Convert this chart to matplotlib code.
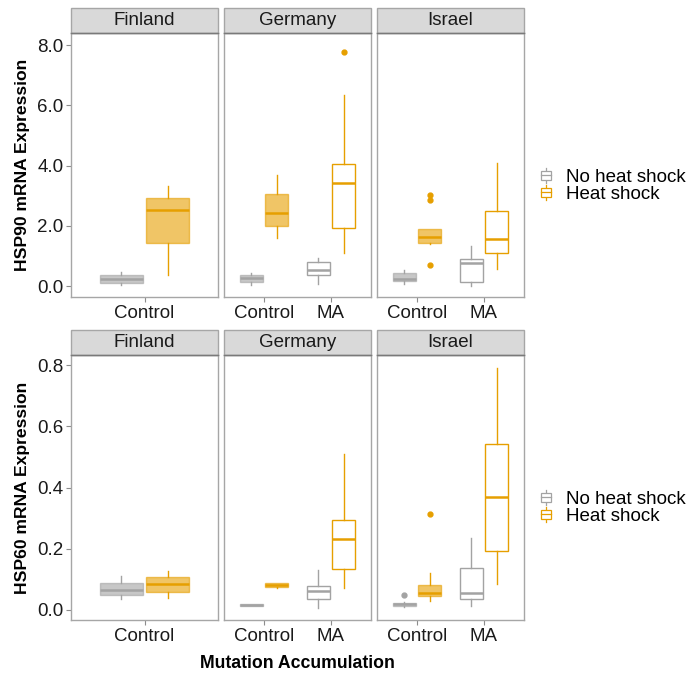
import matplotlib
matplotlib.use("Agg")
import matplotlib.pyplot as plt
from matplotlib.patches import Rectangle
from matplotlib.lines import Line2D
from matplotlib.legend_handler import HandlerBase

plt.rcParams['font.family'] = ['Liberation Sans', 'DejaVu Sans']

# ---------------- data ----------------
countries = ["Finland", "Germany", "Israel"]
treatments = {"Finland": ["Control"], "Germany": ["Control", "MA"], "Israel": ["Control", "MA"]}
heat_levels = ["No heat shock", "Heat shock"]

# group order: Finland-Control(No, HS), Germany-Control(No, HS), Germany-MA(No, HS),
#              Israel-Control(No, HS), Israel-MA(No, HS)
group_country = ["Finland", "Finland", "Germany", "Germany", "Germany", "Germany",
                 "Israel", "Israel", "Israel", "Israel"]
group_treat = ["Control", "Control", "Control", "Control", "MA", "MA",
               "Control", "Control", "MA", "MA"]
group_heat = ["No heat shock", "Heat shock"] * 5

hsp90_whislo = [0.02, 0.36, 0.03, 1.60, 0.06, 1.09, 0.08, 1.39, 0.01, 0.57]
hsp90_q1 = [0.10, 1.42, 0.14, 2.00, 0.36, 1.92, 0.17, 1.43, 0.14, 1.09]
hsp90_med = [0.24, 2.51, 0.25, 2.44, 0.52, 3.43, 0.24, 1.62, 0.75, 1.56]
hsp90_q3 = [0.37, 2.93, 0.36, 3.07, 0.79, 4.04, 0.44, 1.89, 0.91, 2.49]
hsp90_whishi = [0.48, 3.33, 0.43, 3.68, 0.94, 6.35, 0.53, 1.90, 1.33, 4.08]
hsp90_fliers = [[], [], [], [], [], [7.78], [], [3.02, 2.85, 0.69], [], []]

hsp60_whislo = [0.037, 0.040, 0.013, 0.070, 0.005, 0.071, 0.009, 0.030, 0.014, 0.084]
hsp60_q1 = [0.049, 0.060, 0.014, 0.074, 0.035, 0.135, 0.013, 0.045, 0.037, 0.193]
hsp60_med = [0.065, 0.084, 0.016, 0.081, 0.061, 0.233, 0.018, 0.055, 0.055, 0.370]
hsp60_q3 = [0.089, 0.107, 0.018, 0.087, 0.078, 0.293, 0.023, 0.081, 0.138, 0.543]
hsp60_whishi = [0.111, 0.127, 0.019, 0.089, 0.131, 0.509, 0.026, 0.122, 0.234, 0.789]
hsp60_fliers = [[], [], [], [], [], [], [0.048], [0.315], [], []]

hsp90_ticks = [0.0, 2.0, 4.0, 6.0, 8.0]
hsp60_ticks = [0.0, 0.2, 0.4, 0.6, 0.8]

colors = {"No heat shock": "#A3A3A3", "Heat shock": "#E69F00"}

# ---------------- layout ----------------
W, H = 691, 673
fig = plt.figure(figsize=(W / 100, H / 100), dpi=100)

panel_left = [71, 224, 377]
panel_w = 147
rows = [
    dict(top=33, bottom=297, strip_top=8, ylim=(-0.365, 8.4), ticks=hsp90_ticks,
         ylabel="HSP90 mRNA Expression",
         stats=(hsp90_whislo, hsp90_q1, hsp90_med, hsp90_q3, hsp90_whishi, hsp90_fliers),
         legend_y=186),
    dict(top=355, bottom=620, strip_top=330, ylim=(-0.033, 0.833), ticks=hsp60_ticks,
         ylabel="HSP60 mRNA Expression",
         stats=(hsp60_whislo, hsp60_q1, hsp60_med, hsp60_q3, hsp60_whishi, hsp60_fliers),
         legend_y=508),
]

border_col = "#A6A6A6"
offset = 0.19
bw = 0.35
fs = 13.5

for row in rows:
    lo, q1, med, q3, hi, fl = row["stats"]
    axes = []
    for ci, country in enumerate(countries):
        l = panel_left[ci] / W
        b = 1 - row["bottom"] / H
        h = (row["bottom"] - row["top"]) / H
        ax = fig.add_axes([l, b, panel_w / W, h])
        axes.append(ax)
        cats = treatments[country]
        for i in range(len(group_country)):
            if group_country[i] != country:
                continue
            xi = cats.index(group_treat[i]) + 1
            xpos = xi - offset if group_heat[i] == "No heat shock" else xi + offset
            col = colors[group_heat[i]]
            filled = group_treat[i] == "Control"
            st = [dict(med=med[i], q1=q1[i], q3=q3[i], whislo=lo[i], whishi=hi[i],
                       fliers=fl[i])]
            ax.bxp(st, positions=[xpos], widths=bw, patch_artist=True, showcaps=False,
                   boxprops=dict(facecolor=(col if filled else "white"), edgecolor=col,
                                 linewidth=1.0, alpha=(0.6 if filled else 1.0)),
                   whiskerprops=dict(color=col, linewidth=1.0),
                   medianprops=dict(color=col, linewidth=1.8),
                   flierprops=dict(marker="o", markersize=3.5, markerfacecolor=col,
                                   markeredgecolor=col),
                   manage_ticks=False, zorder=3)
        ax.set_xlim(0.4, len(cats) + 0.6)
        ax.set_ylim(*row["ylim"])
        ax.set_xticks(range(1, len(cats) + 1))
        ax.set_xticklabels(cats, fontsize=fs, color="#1a1a1a")
        ax.set_yticks(row["ticks"])
        ax.set_yticklabels([f"{t:.1f}" for t in row["ticks"]], fontsize=fs, color="#1a1a1a")
        ax.tick_params(axis="both", length=3.5, width=0.8, color="#8c8c8c", pad=2)
        if ci > 0:
            ax.tick_params(axis="y", left=False, labelleft=False)
        for sp in ax.spines.values():
            sp.set_color(border_col)
            sp.set_linewidth(1.0)
        # strip
        sh = (row["top"] - row["strip_top"]) / (row["bottom"] - row["top"])
        rect = Rectangle((0, 1), 1, sh, transform=ax.transAxes, facecolor="#D9D9D9",
                         edgecolor=border_col, linewidth=1.0, clip_on=False)
        ax.add_patch(rect)
        ax.plot([0, 1], [1, 1], transform=ax.transAxes, color="#7a7a7a", linewidth=1.0,
                clip_on=False, zorder=5)
        ax.text(0.5, 1 + sh / 2, country, transform=ax.transAxes, ha="center",
                va="center", fontsize=fs, color="#1a1a1a")
    axes[0].set_ylabel(row["ylabel"], fontsize=12.6, fontweight="bold", labelpad=5)

    class BoxHandler(HandlerBase):
        def create_artists(self, legend, orig_handle, xdescent, ydescent, width, height,
                           fontsize, trans):
            c = orig_handle.get_color()
            cx = -xdescent + width / 2
            y0 = -ydescent
            ln = Line2D([cx, cx], [y0 - 1, y0 + height + 1], color=c, linewidth=0.9,
                        transform=trans)
            rw = width * 0.75
            r = Rectangle((cx - rw / 2, y0 + height * 0.15), rw, height * 0.7,
                          facecolor="white", edgecolor=c, linewidth=0.9, transform=trans)
            md = Line2D([cx - rw / 2, cx + rw / 2], [y0 + height / 2] * 2, color=c,
                        linewidth=0.9, transform=trans)
            return [ln, r, md]

    handles = [Line2D([], [], color=colors[h]) for h in heat_levels]
    fig.legend(handles, heat_levels, handler_map={Line2D: BoxHandler()},
               loc="center left", bbox_to_anchor=(532 / W, 1 - row["legend_y"] / H),
               frameon=False, fontsize=fs, handlelength=0.7, handleheight=0.65,
               handletextpad=0.7, labelspacing=0.0, borderaxespad=0)

fig.text(297 / W, 1 - 663 / H, "Mutation Accumulation", ha="center", va="center",
         fontsize=12.7, fontweight="bold")

fig.savefig("out.png", dpi=100)
